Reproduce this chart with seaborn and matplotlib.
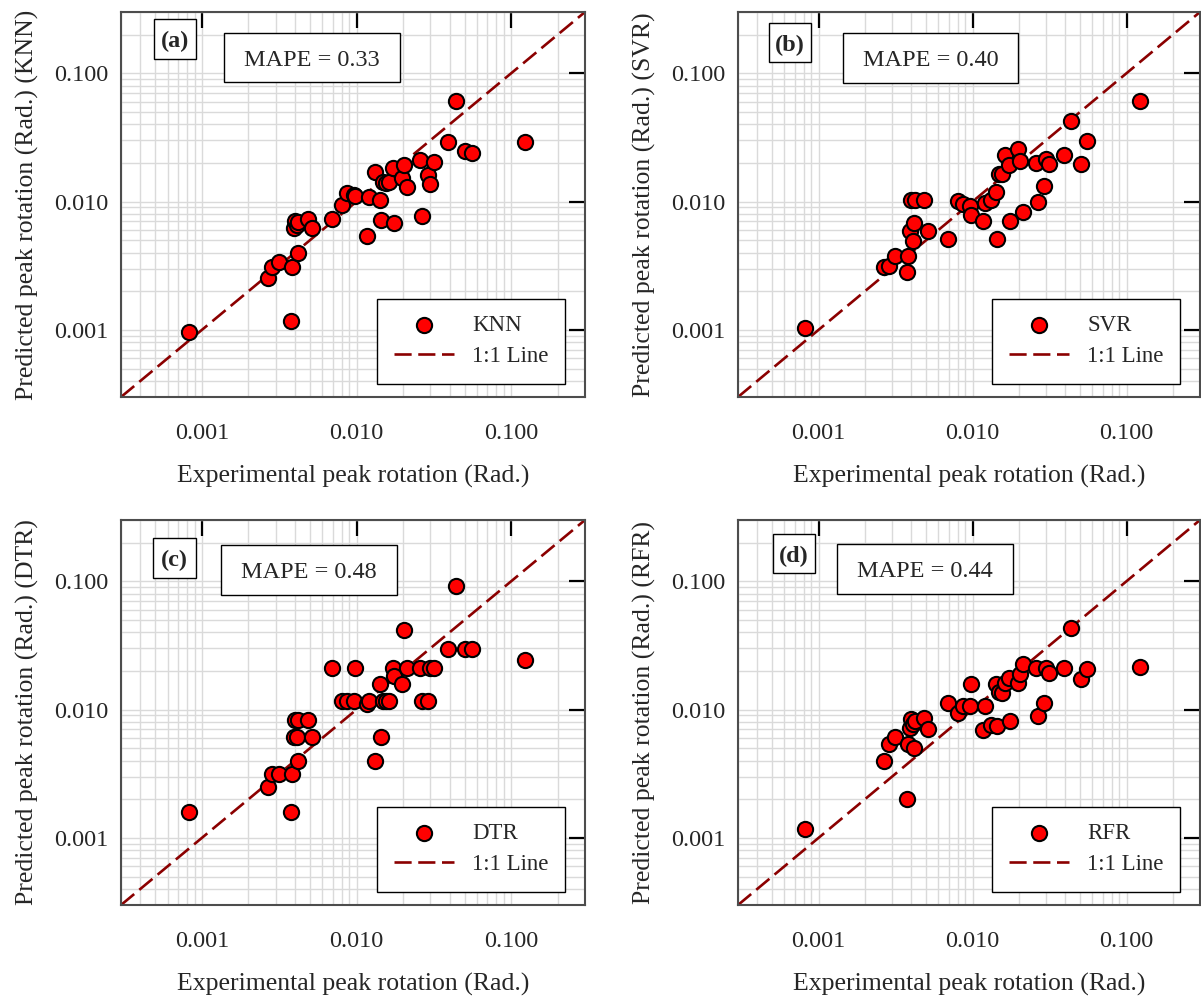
import matplotlib
matplotlib.use("Agg")
import matplotlib.pyplot as plt
import numpy as np
import pandas as pd
import seaborn as sns
from matplotlib.patches import Rectangle
from matplotlib.ticker import FixedLocator, LogLocator, NullFormatter

# Experimental peak rotation of each specimen (rad)
experimental = [0.00082, 0.00266, 0.00286, 0.00316, 0.00378, 0.00382, 0.00392,
                0.0040, 0.0041, 0.00418, 0.0042, 0.00484, 0.00514, 0.00692,
                0.0081, 0.00865, 0.0096, 0.0098, 0.0117, 0.0121, 0.0131,
                0.0142, 0.0145, 0.0149, 0.0155, 0.0162, 0.0173, 0.0174,
                0.0196, 0.0204, 0.0213, 0.0257, 0.0265, 0.0291, 0.0299,
                0.0315, 0.0390, 0.0439, 0.0505, 0.0555, 0.122]

# Predicted peak rotation of each model (rad)
knn = [0.00097, 0.00253, 0.00308, 0.00336, 0.00117, 0.00311, 0.00624,
       0.0071, 0.0066, 0.00398, 0.0069, 0.0073, 0.00624, 0.0073,
       0.0094, 0.0116, 0.0113, 0.0111, 0.00543, 0.0109, 0.01714,
       0.0102, 0.0072, 0.01413, 0.0140, 0.0143, 0.0183, 0.00678,
       0.0153, 0.0191, 0.0129, 0.0209, 0.00778, 0.0161, 0.01375,
       0.0202, 0.0292, 0.0605, 0.0247, 0.0241, 0.0292]
svr = [0.00103, 0.00311, 0.00315, 0.00379, 0.00285, 0.00379, 0.00587,
       0.0102, 0.0049, 0.00678, 0.0102, 0.0102, 0.00594, 0.00512,
       0.01005, 0.0096, 0.0093, 0.0079, 0.0071, 0.0097, 0.0103,
       0.01183, 0.00512, 0.01644, 0.01644, 0.0232, 0.0191, 0.0071,
       0.0258, 0.0206, 0.00826, 0.0200, 0.0099, 0.0133, 0.0215,
       0.0197, 0.0229, 0.0423, 0.0197, 0.0297, 0.0605]
dtr = [0.00158, 0.00249, 0.00317, 0.00317, 0.00158, 0.00317, 0.00612,
       0.00836, 0.00612, 0.00397, 0.00836, 0.00836, 0.00612, 0.0209,
       0.01163, 0.01163, 0.01163, 0.0209, 0.0110, 0.0117, 0.00397,
       0.01596, 0.00612, 0.0116, 0.0116, 0.0116, 0.0209, 0.0182,
       0.01596, 0.0420, 0.0209, 0.0209, 0.0116, 0.0116, 0.0209,
       0.0209, 0.0294, 0.0914, 0.0294, 0.0294, 0.0245]
rfr = [0.00117, 0.00395, 0.00537, 0.0061, 0.00201, 0.00537, 0.00724,
       0.0085, 0.00778, 0.00506, 0.0081, 0.00867, 0.00703, 0.01127,
       0.00948, 0.0106, 0.0107, 0.0157, 0.0069, 0.0107, 0.00755,
       0.0157, 0.0074, 0.0137, 0.0135, 0.0161, 0.0175, 0.00815,
       0.0162, 0.0188, 0.0228, 0.0209, 0.00887, 0.0113, 0.0209,
       0.0193, 0.0212, 0.0430, 0.0173, 0.0208, 0.0214]

models = ["KNN", "SVR", "DTR", "RFR"]
predictions = [knn, svr, dtr, rfr]
panel_tags = ["(a)", "(b)", "(c)", "(d)"]
mape = [0.33, 0.40, 0.48, 0.44]
tick_values = [0.001, 0.01, 0.1]
tick_labels = ["0.001", "0.010", "0.100"]
axis_limits = [0.0003, 0.3]

sns.set_theme(style="white")
plt.rcParams["font.family"] = ["Liberation Serif", "DejaVu Serif"]

FS = 17.5
LABEL_FS = 18.5
LEGEND_FS = 16.5
W, H = 1201, 1000
fig = plt.figure(figsize=(W / 100, H / 100), dpi=100)

# axes rectangles in pixels: left, top, right, bottom
rects = [(121, 12, 585, 397), (738, 12, 1200, 397),
         (121, 520, 585, 905), (738, 520, 1200, 905)]
# boxes (x0, y0, width, height) in axes fraction
tag_boxes = [(0.071, 0.878, 0.091, 0.104), (0.067, 0.870, 0.091, 0.101),
             (0.069, 0.849, 0.093, 0.104), (0.076, 0.862, 0.091, 0.101)]
mape_boxes = [(0.222, 0.818, 0.379, 0.127), (0.227, 0.816, 0.379, 0.130),
              (0.216, 0.805, 0.379, 0.130), (0.214, 0.808, 0.381, 0.130)]


def boxed_text(ax, box, text, **kw):
    x0, y0, w, h = box
    ax.add_patch(Rectangle((x0, y0), w, h, transform=ax.transAxes,
                           fc="white", ec="black", lw=1.0, zorder=5))
    ax.text(x0 + w / 2, y0 + h / 2, text, transform=ax.transAxes,
            ha="center", va="center_baseline", fontsize=FS, zorder=6, **kw)


for i, (name, pred) in enumerate(zip(models, predictions)):
    l, t, r, b = rects[i]
    ax = fig.add_axes([l / W, 1 - b / H, (r - l) / W, (b - t) / H])
    df = pd.DataFrame({"Experimental": experimental, "Predicted": pred})

    sns.scatterplot(data=df, x="Experimental", y="Predicted", ax=ax,
                    s=120, color="#ff0000", edgecolor="black", linewidth=1.5,
                    label=name, zorder=3)
    ax.plot(axis_limits, axis_limits, color="#8b0000", lw=1.9,
            ls=(0, (6.5, 2.5)), label="1:1 Line", zorder=2)

    ax.set_xscale("log")
    ax.set_yscale("log")
    ax.set_xlim(axis_limits)
    ax.set_ylim(axis_limits)
    for axis in (ax.xaxis, ax.yaxis):
        axis.set_major_locator(FixedLocator(tick_values))
        axis.set_minor_locator(LogLocator(base=10, subs=np.arange(2, 10)))
        axis.set_minor_formatter(NullFormatter())
    ax.set_xticklabels(tick_labels)
    ax.set_yticklabels(tick_labels)

    ax.grid(which="both", color="#dadada", lw=1.0)
    ax.set_axisbelow(True)
    ax.tick_params(which="major", direction="in", length=11.5, width=1.6,
                   color="black", top=True, right=True, labelsize=FS)
    ax.tick_params(axis="x", which="major", pad=19)
    ax.tick_params(axis="y", which="major", pad=9)
    ax.tick_params(which="minor", length=0)
    for sp in ax.spines.values():
        sp.set_color("#4d4d4d")
        sp.set_linewidth(1.5)

    ax.set_xlabel("Experimental peak rotation (Rad.)", fontsize=LABEL_FS,
                  labelpad=15)
    ax.set_ylabel(f"Predicted peak rotation (Rad.) ({name})",
                  fontsize=LABEL_FS, labelpad=11)

    boxed_text(ax, tag_boxes[i], panel_tags[i], fontweight="bold")
    boxed_text(ax, mape_boxes[i], f"MAPE = {mape[i]:.2f}")

    handles, labels = ax.get_legend_handles_labels()
    leg = ax.legend(handles, labels, loc="lower right",
                    bbox_to_anchor=(0.957, 0.034), borderaxespad=0,
                    fontsize=LEGEND_FS, fancybox=False, framealpha=1,
                    edgecolor="black", handlelength=2.62, handletextpad=0.8,
                    borderpad=0.72, labelspacing=0.45)
    leg.get_frame().set_linewidth(1.0)
    leg.set_zorder(7)

fig.savefig("out.png", dpi=100)
